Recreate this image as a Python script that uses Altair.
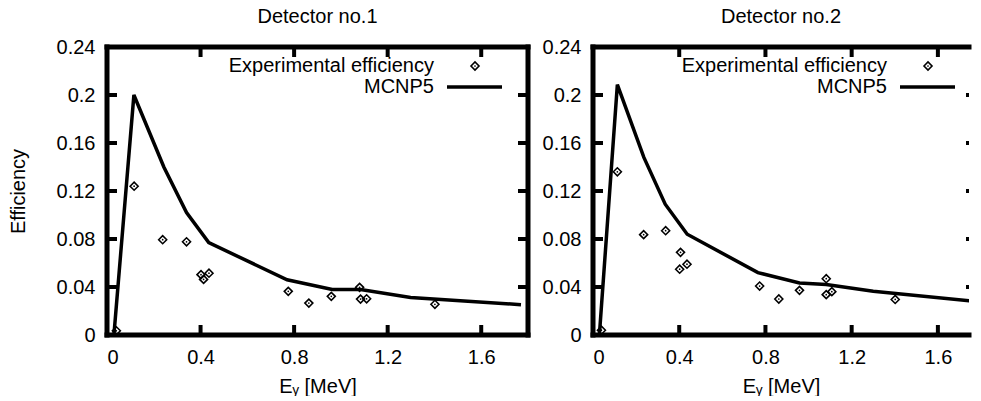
import altair as alt
import pandas as pd

# ---- data ----
panel_titles = ["Detector no.1", "Detector no.2"]
legend_labels = ["Experimental efficiency", "MCNP5"]

energy_exp_1 = [0.040, 0.116, 0.238, 0.340, 0.402, 0.413, 0.436, 0.775, 0.863, 0.959, 1.080, 1.084, 1.110, 1.402]
eff_exp_1 = [0.0035, 0.124, 0.0794, 0.0777, 0.0503, 0.0463, 0.0515, 0.0364, 0.0266, 0.0322, 0.0397, 0.0299, 0.0302, 0.0256]
energy_mc_1 = [0.030, 0.115, 0.243, 0.340, 0.435, 0.770, 0.963, 1.084, 1.298, 1.770]
eff_mc_1 = [0.001, 0.200, 0.140, 0.102, 0.077, 0.046, 0.038, 0.038, 0.0313, 0.0253]

energy_exp_2 = [0.039, 0.113, 0.235, 0.337, 0.406, 0.402, 0.436, 0.773, 0.862, 0.958, 1.082, 1.082, 1.108, 1.402]
eff_exp_2 = [0.004, 0.136, 0.0836, 0.0869, 0.0689, 0.0548, 0.0590, 0.0408, 0.030, 0.0372, 0.0469, 0.0336, 0.0361, 0.0296]
energy_mc_2 = [0.030, 0.113, 0.236, 0.335, 0.437, 0.765, 0.958, 1.082, 1.300, 1.770]
eff_mc_2 = [0.001, 0.2086, 0.148, 0.109, 0.084, 0.052, 0.0433, 0.042, 0.0365, 0.028]

x_ticks = [0, 0.4, 0.8, 1.2, 1.6]
y_ticks = [0, 0.04, 0.08, 0.12, 0.16, 0.2, 0.24]

FONT = "Liberation Sans"
FS = 20
H = 288
FRAME = 5
TICK_SIZE = 400  # custom tick symbols: unit path length -> 10 px

SHAPE_LEFT = "M0,-0.2L1,-0.2L1,0.2L0,0.2Z"
SHAPE_RIGHT = "M-1,-0.2L0,-0.2L0,0.2L-1,0.2Z"
SHAPE_RIGHT_SHORT = "M-0.3,-0.2L0,-0.2L0,0.2L-0.3,0.2Z"
SHAPE_TOP = "M-0.2,0L0.2,0L0.2,1L-0.2,1Z"
SHAPE_BOTTOM = "M-0.2,-1L0.2,-1L0.2,0L-0.2,0Z"


def panel(e_exp, f_exp, e_mc, f_mc, title, width, full_width, xmax, y_title, right_frame, right_shape):
    xs = alt.Scale(domain=[0, xmax], nice=False, zero=False)
    ys = alt.Scale(domain=[0, 0.24], nice=False, zero=False)
    common = dict(domain=False, grid=False, ticks=False,
                  labelFontSize=FS, labelColor="black", labelFont=FONT,
                  titleFontSize=FS, titleFontWeight="normal", titleColor="black", titleFont=FONT)
    xaxis = alt.Axis(values=x_ticks, format=".1~f", orient="bottom",
                     labelPadding=12, title="E\u1d67 [MeV]", titlePadding=9, **common)
    if y_title:
        yaxis = alt.Axis(values=y_ticks, format=".2~f", orient="left",
                         labelPadding=12, title=y_title, titlePadding=28, **common)
    else:
        yaxis = alt.Axis(values=y_ticks, format=".2~f", orient="left",
                         labelPadding=12, title=None, **common)

    mc = pd.DataFrame({"energy": e_mc, "eff": f_mc})
    ex = pd.DataFrame({"energy": e_exp, "eff": f_exp})
    y_lo, y_hi = 0.0, 0.24
    t_left = pd.DataFrame({"energy": [0.0] * len(y_ticks), "eff": y_ticks})
    t_right = pd.DataFrame({"energy": [xmax] * len(y_ticks), "eff": y_ticks})
    t_bottom = pd.DataFrame({"energy": x_ticks, "eff": [y_lo] * len(x_ticks)})
    t_top = pd.DataFrame({"energy": x_ticks, "eff": [y_hi] * len(x_ticks)})

    X0 = alt.X("energy:Q", scale=xs, axis=None)
    Y0 = alt.Y("eff:Q", scale=ys, axis=None)

    line = alt.Chart(mc).mark_line(color="black", strokeWidth=3.5, clip=True).encode(
        x=alt.X("energy:Q", scale=xs, axis=xaxis),
        y=alt.Y("eff:Q", scale=ys, axis=yaxis))
    pts = alt.Chart(ex).mark_point(shape="diamond", size=64, strokeWidth=1.6, color="black",
                                   filled=False, opacity=1).encode(x=X0, y=Y0)
    dots = alt.Chart(ex).mark_point(shape="circle", size=3, color="black", filled=True,
                                    opacity=1).encode(x=X0, y=Y0)

    one = pd.DataFrame({"t": [title]})
    frame_style = dict(color="black", strokeWidth=FRAME, strokeCap="square")
    f_left = alt.Chart(one).mark_rule(**frame_style).encode(
        x=alt.value(0), y=alt.value(0), y2=alt.value(H))
    f_top = alt.Chart(one).mark_rule(**frame_style).encode(
        x=alt.value(0), x2=alt.value(width), y=alt.value(0))
    f_bot = alt.Chart(one).mark_rule(**frame_style).encode(
        x=alt.value(0), x2=alt.value(width), y=alt.value(H))
    layers = [line, pts, dots, f_left, f_top, f_bot]
    if right_frame:
        layers.append(alt.Chart(one).mark_rule(**frame_style).encode(
            x=alt.value(width), y=alt.value(0), y2=alt.value(H)))

    # inward ticks as filled custom symbols placed through the scales
    def ticks(df, shape):
        return alt.Chart(df).mark_point(shape=shape, size=TICK_SIZE, filled=True, color="black",
                                        opacity=1, strokeWidth=0).encode(x=X0, y=Y0)
    layers += [ticks(t_left, SHAPE_LEFT), ticks(t_right, right_shape),
               ticks(t_bottom, SHAPE_BOTTOM), ticks(t_top, SHAPE_TOP)]

    lab1 = alt.Chart(pd.DataFrame({"t": [legend_labels[0]]})).mark_text(
        align="right", baseline="middle", fontSize=FS, font=FONT, color="black").encode(
        text="t:N", x=alt.value(full_width - 94), y=alt.value(19))
    lab2 = alt.Chart(pd.DataFrame({"t": [legend_labels[1]]})).mark_text(
        align="right", baseline="middle", fontSize=FS, font=FONT, color="black").encode(
        text="t:N", x=alt.value(full_width - 94), y=alt.value(40))
    sym = alt.Chart(pd.DataFrame({"t": [legend_labels[0]]})).mark_point(
        shape="diamond", size=64, strokeWidth=1.6, color="black", filled=False, opacity=1).encode(
        x=alt.value(full_width - 53), y=alt.value(19))
    symdot = alt.Chart(pd.DataFrame({"t": [legend_labels[0]]})).mark_point(
        shape="circle", size=3, color="black", filled=True, opacity=1).encode(
        x=alt.value(full_width - 53), y=alt.value(19))
    seg = alt.Chart(pd.DataFrame({"t": [legend_labels[1]]})).mark_rule(
        color="black", strokeWidth=3.5).encode(
        x=alt.value(full_width - 81), x2=alt.value(full_width - 26), y=alt.value(40))
    layers += [lab1, lab2, sym, symdot, seg]

    return alt.layer(*layers).resolve_axis(x="independent", y="independent").properties(
        width=width, height=H,
        title=alt.TitleParams(title, fontSize=FS, fontWeight="normal", font=FONT,
                              color="black", offset=10),
    )


RW = 376
left = panel(energy_exp_1, eff_exp_1, energy_mc_1, eff_mc_1, panel_titles[0],
             421, 421, 1.8, "Efficiency", True, SHAPE_RIGHT)
right = panel(energy_exp_2, eff_exp_2, energy_mc_2, eff_mc_2, panel_titles[1],
              RW, 388, 1.8 * RW / 388, None, False, SHAPE_RIGHT_SHORT)

chart = alt.hconcat(left, right, spacing=10).properties(
    padding={"left": 0, "top": -1, "right": 0, "bottom": 0}
).configure(font=FONT).configure_view(stroke="transparent", strokeWidth=0)

chart.save("out.html", embed_options={"renderer": "svg", "actions": False})
